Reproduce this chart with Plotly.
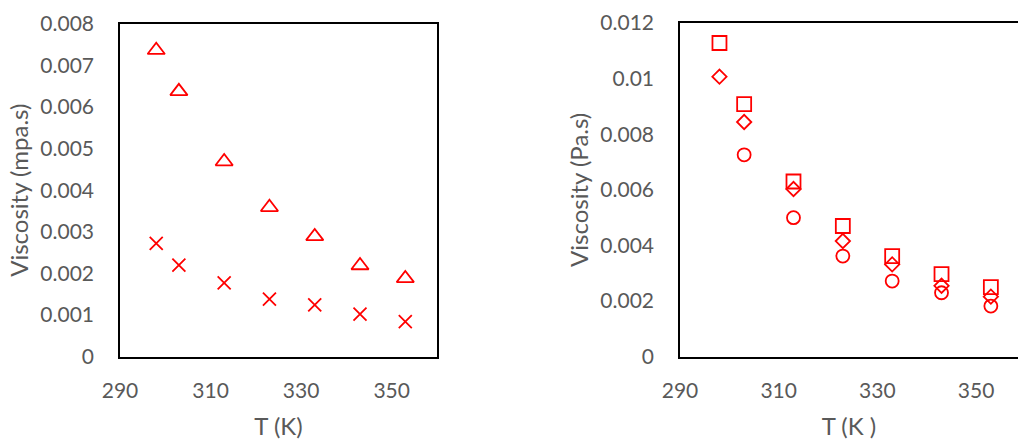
import plotly.graph_objects as go

# Left panel data
T_left = [298, 303, 313, 323, 333, 343, 353]
visc_tri = [0.00737, 0.00638, 0.00469, 0.00359, 0.00289, 0.00219, 0.00188]
visc_x = [0.00272, 0.00220, 0.00177, 0.00138, 0.00124, 0.00102, 0.00084]

# Right panel data
T_right = [298, 303, 313, 323, 333, 343, 353]
visc_sq = [0.01128, 0.00908, 0.00630, 0.00470, 0.00362, 0.00297, 0.00250]
visc_dia = [0.01007, 0.00844, 0.00603, 0.00416, 0.00332, 0.00255, 0.00216]
T_circ = [303, 313, 323, 333, 343, 353]
visc_circ = [0.00726, 0.00500, 0.00362, 0.00272, 0.00230, 0.00182]

left_yticks = [0, 0.001, 0.002, 0.003, 0.004, 0.005, 0.006, 0.007, 0.008]
left_ylabels = ["0", "0.001", "0.002", "0.003", "0.004", "0.005", "0.006", "0.007", "0.008"]
right_yticks = [0, 0.002, 0.004, 0.006, 0.008, 0.010, 0.012]
right_ylabels = ["0", "0.002", "0.004", "0.006", "0.008", "0.01", "0.012"]
xticks = [290, 310, 330, 350]

RED = "#FF0000"
GRAY = "#595959"
FONT = "Lato, 'Open Sans', sans-serif"
TICK_SIZE = 21
TITLE_SIZE = 24

fig = go.Figure()

def mk(x, y, symbol, size, xa, ya, name):
    return go.Scatter(x=x, y=y, mode="markers", name=name, xaxis=xa, yaxis=ya,
                      marker=dict(symbol=symbol, size=size, color=RED,
                                  line=dict(color=RED, width=1.8)))

fig.add_trace(mk(T_left, visc_tri, "triangle-up-open", 15, "x", "y", "triangle"))
fig.add_trace(mk(T_left, visc_x, "x-thin-open", 13, "x", "y", "cross"))
fig.add_trace(mk(T_right, visc_sq, "square-open", 14, "x2", "y2", "square"))
fig.add_trace(mk(T_right, visc_dia, "diamond-open", 11, "x2", "y2", "diamond"))
fig.add_trace(mk(T_circ, visc_circ, "circle-open", 13, "x2", "y2", "circle"))

axis_common = dict(showgrid=False, zeroline=False, ticks="", showline=True,
                   linecolor="black", linewidth=1.6, automargin=False,
                   tickfont=dict(family=FONT, size=TICK_SIZE, color=GRAY))
title_font = dict(family=FONT, size=TITLE_SIZE, color=GRAY)

fig.update_layout(
    width=1018, height=440,
    margin=dict(l=0, r=0, t=0, b=0),
    paper_bgcolor="white", plot_bgcolor="white",
    showlegend=False,
    xaxis=dict(domain=[120/1018, 437/1018], range=[290, 360], tickvals=xticks,
               mirror=True, anchor="y", ticklabelstandoff=14,
               title=dict(text="T (K)", standoff=21, font=title_font),
               **axis_common),
    yaxis=dict(domain=[1-356.5/440, 1-24/440], range=[0, 0.008], tickvals=left_yticks,
               ticktext=left_ylabels, mirror=True, anchor="x", ticklabelstandoff=20,
               title=dict(text="Viscosity (mpa.s)", standoff=5, font=title_font),
               **axis_common),
    xaxis2=dict(domain=[680/1018, 1.0], range=[290, 358.5], tickvals=xticks,
                mirror=True, anchor="y2", ticklabelstandoff=14,
                title=dict(text="T (K )", standoff=21, font=title_font),
                **axis_common),
    yaxis2=dict(domain=[1-356.7/440, 1-23/440], range=[0, 0.012], tickvals=right_yticks,
                ticktext=right_ylabels, mirror=False, anchor="x2", ticklabelstandoff=20,
                title=dict(text="Viscosity (Pa.s)", standoff=5, font=title_font),
                **axis_common),
)

fig.write_html("out.html")
